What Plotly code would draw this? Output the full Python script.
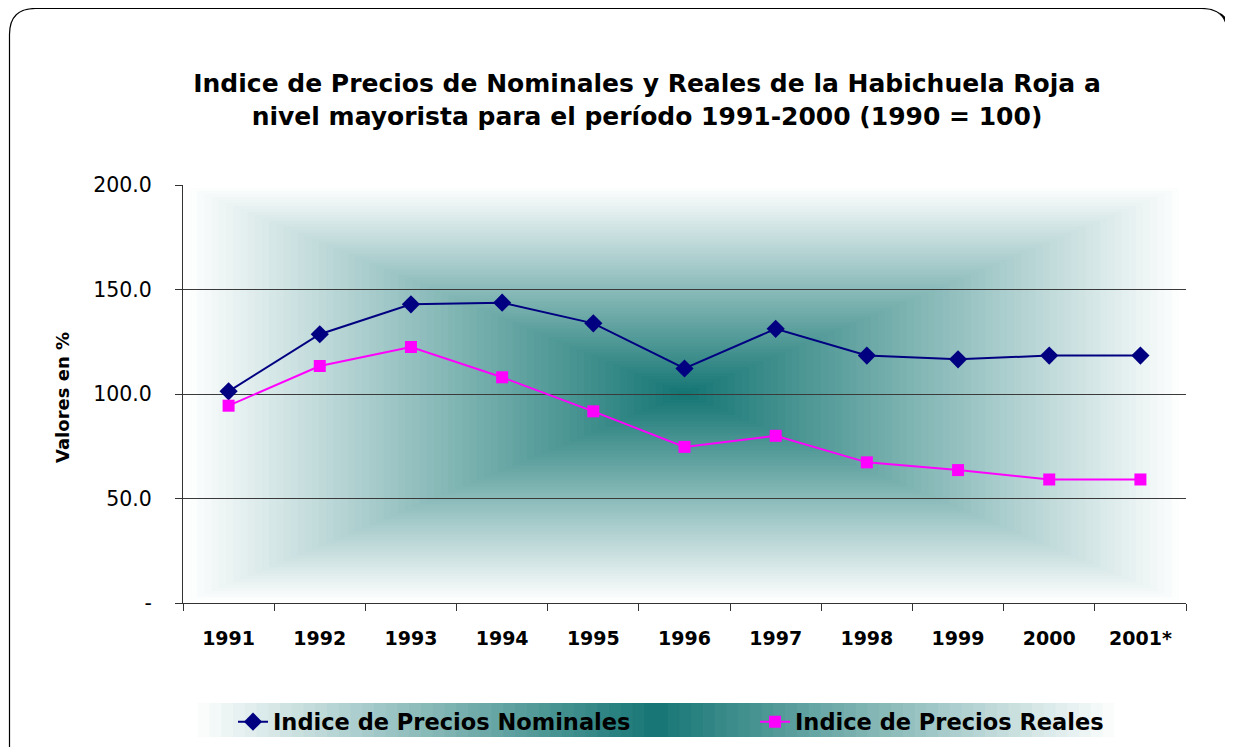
import plotly.graph_objects as go

years = ["1991", "1992", "1993", "1994", "1995", "1996", "1997", "1998", "1999", "2000", "2001*"]
nominal = [101.3, 128.6, 142.9, 143.7, 133.8, 112.2, 131.2, 118.4, 116.6, 118.4, 118.4]
real = [94.4, 113.4, 122.5, 108.0, 91.7, 74.7, 80.0, 67.3, 63.6, 59.1, 59.1]
ytick_vals = [0, 50, 100, 150, 200]
ytick_text = ["-", "50.0", "100.0", "150.0", "200.0"]

# page offset of the figure (default body margin of the html page)
OFF = 8
W, H = 1233 - OFF, 747 - OFF
# plot area in page pixels
PX0, PX1, PY0, PY1 = 183, 1186, 185, 603
L, R, T, B = PX0 - OFF, W - (PX1 - OFF), PY0 - OFF, H - (PY1 - OFF)
PW, PH = PX1 - PX0, PY1 - PY0

def px(x):
    return (x - PX0) / PW

def py(y):
    return (PY1 - y) / PH

FONT = "DejaVu Sans, Verdana, sans-serif"
CENTER = (18, 116, 114)

def mix(d):
    r = [int(round(c + (255 - c) * d)) for c in CENTER]
    return "rgb(%d,%d,%d)" % tuple(r)

shapes = []

def rounded(x0, y0, x1, y1, r):
    pts = [
        ("M", px(x0 + r), py(y0)),
        ("L", px(x1 - r), py(y0)),
        ("Q", px(x1), py(y0), px(x1), py(y0 + r)),
        ("L", px(x1), py(y1 - r)),
        ("Q", px(x1), py(y1), px(x1 - r), py(y1)),
        ("L", px(x0 + r), py(y1)),
        ("Q", px(x0), py(y1), px(x0), py(y1 - r)),
        ("L", px(x0), py(y0 + r)),
        ("Q", px(x0), py(y0), px(x0 + r), py(y0)),
    ]
    s = ""
    for p in pts:
        s += p[0] + " " + " ".join("%.5f" % v for v in p[1:]) + " "
    return s + "Z"

# outer frame: shadow + border
shapes.append(dict(type="path", xref="paper", yref="paper", layer="below",
                   path=rounded(12, 11, 1230, 775, 26), line=dict(color="black", width=3),
                   fillcolor="black"))
shapes.append(dict(type="path", xref="paper", yref="paper", layer="below",
                   path=rounded(9.5, 8.5, 1227.5, 772, 26), line=dict(color="black", width=1.2),
                   fillcolor="white"))

# legend background: horizontal gradient from center
lx0, lx1, ly0, ly1 = 186, 1126, 703, 737
lc = (lx0 + lx1) / 2
N = 40
for k in range(N):
    d = 1 - k / N
    hw = (lx1 - lx0) / 2 * d
    shapes.append(dict(type="rect", xref="paper", yref="paper", layer="below",
                       x0=px(lc - hw), x1=px(lc + hw), y0=py(ly1), y1=py(ly0),
                       fillcolor=mix(d), line=dict(width=0)))

# plot area background: rectangular gradient from center
N = 70
for k in range(N):
    d = 1 - k / N
    shapes.append(dict(type="rect", xref="x domain", yref="y domain", layer="below",
                       x0=0.5 - 0.5 * d, x1=0.5 + 0.5 * d, y0=0.5 - 0.5 * d, y1=0.5 + 0.5 * d,
                       fillcolor=mix(d), line=dict(width=0)))

fig = go.Figure()
fig.add_trace(go.Scatter(x=years, y=nominal, mode="lines+markers",
                         name="Indice de Precios Nominales", legend="legend",
                         line=dict(color="#000080", width=2),
                         marker=dict(symbol="diamond", size=14, color="#000080")))
fig.add_trace(go.Scatter(x=years, y=real, mode="lines+markers",
                         name="Indice de Precios Reales", legend="legend2",
                         line=dict(color="#ff00ff", width=2),
                         marker=dict(symbol="square", size=12, color="#ff00ff")))

legend_font = dict(size=22.5, family=FONT, weight="bold", color="black")

fig.update_layout(
    width=W, height=H,
    margin=dict(l=L, r=R, t=T, b=B, autoexpand=False),
    paper_bgcolor="white",
    plot_bgcolor="rgba(0,0,0,0)",
    font=dict(family=FONT, color="black"),
    title=dict(text="Indice de Precios de Nominales y Reales de la Habichuela Roja a<br>nivel mayorista para el período 1991-2000 (1990 = 100)",
               x=(647 - OFF) / W, xanchor="center", y=1 - (92 - OFF) / H, yanchor="middle",
               font=dict(size=25, family=FONT, weight="bold")),
    xaxis=dict(type="category", range=[-0.5, 10.5], showgrid=False,
               showline=True, linecolor="#333", linewidth=1,
               ticks="outside", tickson="boundaries", ticklen=7, tickcolor="#333",
               tickfont=dict(size=19, family=FONT, weight="bold"),
               ticklabelstandoff=18, automargin=False),
    yaxis=dict(range=[0, 200], tickvals=ytick_vals, ticktext=ytick_text,
               showgrid=True, gridcolor="#3a3a3a", gridwidth=1,
               showline=True, linecolor="#333", linewidth=1,
               ticks="outside", ticklen=7, tickcolor="#333",
               tickfont=dict(size=20.5, family=FONT),
               ticklabelstandoff=19, zeroline=False, automargin=False),
    showlegend=True,
    legend=dict(orientation="h", x=px(233), xanchor="left", y=py(722), yanchor="middle",
                bgcolor="rgba(0,0,0,0)", font=legend_font),
    legend2=dict(orientation="h", x=px(755), xanchor="left", y=py(722), yanchor="middle",
                 bgcolor="rgba(0,0,0,0)", font=legend_font),
    shapes=shapes,
    annotations=[dict(text="Valores en %", textangle=-90, xref="paper", yref="paper",
                      x=px(62), y=py(398), showarrow=False, xanchor="center", yanchor="middle",
                      font=dict(size=18, family=FONT, weight="bold"))],
)

fig.write_html("out.html")
